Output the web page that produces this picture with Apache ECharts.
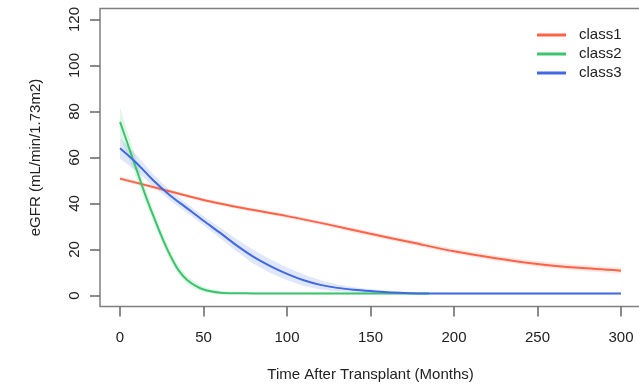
<!DOCTYPE html>
<html>
<head>
<meta charset="utf-8">
<script src="https://cdn.jsdelivr.net/npm/echarts@6/dist/echarts.min.js"></script>
<style>html,body{margin:0;padding:0;background:#fff}#c{width:639px;height:384px}</style>
</head>
<body>
<div id="c"></div>
<script>
var seriesNames = ['class1', 'class2', 'class3'];
var xTicks = [0, 50, 100, 150, 200, 250, 300];
var yTicks = [0, 20, 40, 60, 80, 100, 120];

var monthsClass1 = [0, 25, 50, 75, 100, 125, 150, 175, 200, 225, 250, 275, 300];
var valuesClass1 = [50.8, 46.2, 41.5, 37.8, 34.5, 30.8, 26.8, 23.0, 19.2, 16.2, 13.7, 12.0, 10.8];
var halfBandClass1 = [0.9, 0.8, 0.8, 0.8, 0.8, 0.9, 1.0, 1.0, 1.1, 1.1, 1.2, 1.2, 1.3];

var monthsClass2 = [0, 5, 10, 15, 20, 25, 30, 35, 40, 45, 50, 55, 60, 65, 70, 80, 100, 120, 140, 160, 185];
var valuesClass2 = [75.5, 65, 54.5, 44, 34.5, 25.5, 17.5, 11, 6.8, 4.3, 2.6, 1.7, 1.2, 1.0, 0.95, 0.9, 0.9, 0.9, 0.9, 0.9, 0.9];
var halfBandClass2 = [6.5, 5, 4, 3.2, 2.8, 2.5, 2.2, 2, 1.8, 1.5, 1.2, 1, 0.8, 0.6, 0.5, 0.5, 0.5, 0.5, 0.5, 0.5, 0.5];

var monthsClass3 = [0, 10, 20, 30, 40, 50, 60, 70, 80, 90, 100, 110, 120, 130, 140, 150, 160, 170, 180, 200, 250, 300];
var valuesClass3 = [64, 57.5, 50, 43.5, 38, 32.5, 27.2, 21.7, 16.8, 12.8, 9.4, 6.6, 4.6, 3.3, 2.5, 1.9, 1.4, 1.1, 0.9, 0.8, 0.8, 0.8];
var halfBandClass3 = [4.5, 3.5, 2.6, 2.2, 2.0, 2.0, 2.3, 2.7, 3.0, 3.0, 2.8, 2.5, 2.0, 1.5, 1.1, 0.8, 0.6, 0.5, 0.4, 0.4, 0.4, 0.4];

var lineColors = ['#FF6347', '#3CC46C', '#4169E1'];
var bandColors = ['rgba(255,99,71,0.16)', 'rgba(60,196,108,0.16)', 'rgba(65,105,225,0.16)'];

var allMonths = [monthsClass1, monthsClass2, monthsClass3];
var allValues = [valuesClass1, valuesClass2, valuesClass3];
var allBands = [halfBandClass1, halfBandClass2, halfBandClass3];

var series = [];
for (var k0 = 0; k0 < 3; k0++) {
  (function (k) {
    var m = allMonths[k], v = allValues[k], b = allBands[k];
    series.push({
      type: 'custom', silent: true, z: 1, clip: true,
      data: [0],
      renderItem: function (params, api) {
        var pts = [];
        for (var i = 0; i < m.length; i++) pts.push(api.coord([m[i], v[i] + b[i]]));
        for (var j = m.length - 1; j >= 0; j--) pts.push(api.coord([m[j], v[j] - b[j]]));
        return { type: 'polygon', shape: { points: pts }, style: { fill: bandColors[k] } };
      }
    });
  })(k0);
}
for (var k2 = 0; k2 < 3; k2++) {
  (function (k) {
    var m = allMonths[k], v = allValues[k];
    series.push({
      name: seriesNames[k], type: 'line', symbol: 'none', smooth: 0.3, z: 3,
      lineStyle: { color: lineColors[k], width: 2 },
      itemStyle: { color: lineColors[k] },
      data: m.map(function (x, i) { return [x, v[i]]; })
    });
  })(k2);
}

var chart = echarts.init(document.getElementById('c'), null, { renderer: 'canvas' });
chart.setOption({
  animation: false,
  textStyle: { fontFamily: 'Liberation Sans, Arial, sans-serif' },
  grid: { left: 100, top: 8.5, width: 541, height: 298, show: true, borderColor: '#808080', borderWidth: 1.5, backgroundColor: 'transparent', outerBoundsMode: 'none', containLabel: false },
  legend: {
    data: seriesNames, orient: 'vertical', left: 532, top: 22.5,
    itemWidth: 29, itemHeight: 3, itemGap: 4, icon: 'rect',
    textStyle: { fontSize: 15, color: '#222', fontFamily: 'Liberation Sans, Arial, sans-serif', padding: [0, 0, 0, 8] }
  },
  xAxis: {
    type: 'value', min: -12, max: 312,
    name: 'Time After Transplant (Months)', nameLocation: 'middle', nameGap: 61,
    nameTextStyle: { fontSize: 15, color: '#222' },
    axisLine: { show: false, onZero: false },
    splitLine: { show: false },
    axisTick: { show: true, length: 10, lineStyle: { color: '#666', width: 1.5 }, customValues: xTicks },
    axisLabel: { fontSize: 15, color: '#222', margin: 23.5, customValues: xTicks }
  },
  yAxis: {
    type: 'value', min: -4.8, max: 124.8,
    name: 'eGFR (mL/min/1.73m2)', nameLocation: 'middle', nameGap: 57,
    nameTextStyle: { fontSize: 15, color: '#222' },
    axisLine: { show: false, onZero: false },
    splitLine: { show: false },
    axisTick: { show: true, length: 10, lineStyle: { color: '#666', width: 1.5 }, customValues: yTicks },
    axisLabel: { fontSize: 15, color: '#222', margin: 18, rotate: 90, customValues: yTicks }
  },
  series: series
});
</script>
</body>
</html>
